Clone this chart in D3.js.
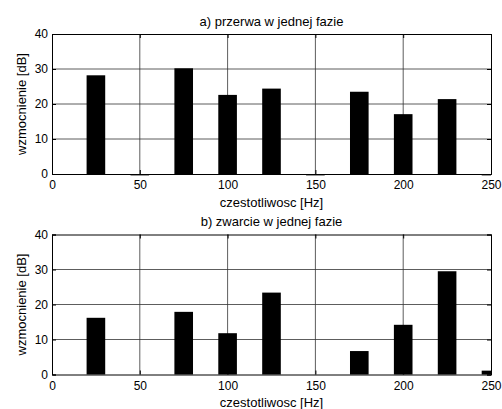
<!DOCTYPE html>
<meta charset="utf-8">
<style>
body { margin: 0; background: #fff; }
text { font-family: "Liberation Sans", Arial, sans-serif; font-size: 13px; fill: #000; }
.grid line { stroke: #333; stroke-width: 0.8; }
</style>
<body>
<svg width="502" height="409"></svg>
<script src="https://d3js.org/d3.v7.min.js"></script>
<script>
// frequencies [Hz]
var freqs = [25, 50, 75, 100, 125, 150, 175, 200, 225, 250];
// gain [dB]
var gainA = [28.2, -0.4, 30.2, 22.6, 24.4, -0.4, 23.5, 17.1, 21.4, -0.4];
var gainB = [16.2, 0, 17.9, 11.8, 23.4, 0, 6.7, 14.2, 29.5, 1.1];
var titles = ["a) przerwa w jednej fazie", "b) zwarcie w jednej fazie"];
var xTicks = [0, 50, 100, 150, 200, 250];
var yTicks = [0, 10, 20, 30, 40];

var svg = d3.select("svg");
var left = 52, right = 491, plotH = 140;
var tops = [34, 234.5];

var x = d3.scaleLinear().domain([0, 250]).range([left, right]);
var barW = 10.6;

[gainA, gainB].forEach(function(vals, i) {
  var top = tops[i];
  var y = d3.scaleLinear().domain([0, 40]).range([top + plotH, top]);
  var g = svg.append("g");

  g.append("clipPath").attr("id", "clip" + i)
    .append("rect").attr("x", left).attr("y", top).attr("width", right - left).attr("height", plotH + 3);

  // grid
  var grid = g.append("g").attr("class", "grid");
  grid.selectAll(".gx").data(xTicks.slice(1, -1)).enter().append("line")
    .attr("x1", function(d) { return x(d); }).attr("x2", function(d) { return x(d); })
    .attr("y1", top).attr("y2", top + plotH);
  grid.selectAll(".gy").data(yTicks.slice(1, -1)).enter().append("line")
    .attr("x1", left).attr("x2", right)
    .attr("y1", function(d) { return y(d); }).attr("y2", function(d) { return y(d); });

  // axes
  var ax = g.append("g").attr("transform", "translate(0," + (top + plotH) + ")")
    .call(d3.axisBottom(x).tickValues(xTicks).tickSize(-4).tickPadding(6.5));
  ax.select(".domain").attr("stroke", "#000");
  g.append("g").attr("transform", "translate(0," + top + ")")
    .call(d3.axisTop(x).tickValues(xTicks).tickSize(-4).tickFormat(""))
    .select(".domain").attr("stroke", "#000");
  g.append("g").attr("transform", "translate(" + left + ",0)")
    .call(d3.axisLeft(y).tickValues(yTicks).tickSize(-4).tickPadding(4))
    .select(".domain").attr("stroke", "#000");
  g.append("g").attr("transform", "translate(" + right + ",0)")
    .call(d3.axisRight(y).tickValues(yTicks).tickSize(-4).tickFormat(""))
    .select(".domain").attr("stroke", "#000");
  g.selectAll(".tick text").style("font-family", "Liberation Sans, Arial, sans-serif")
    .style("font-size", "12px").attr("fill", "#000");

  // bars
  g.append("g").attr("clip-path", "url(#clip" + i + ")")
    .selectAll("rect").data(freqs).enter().append("rect")
      .attr("x", function(d) { return x(d - barW / 2); })
      .attr("width", x(barW) - x(0))
      .attr("y", function(d, j) { return y(Math.max(0, vals[j])); })
      .attr("height", function(d, j) { return Math.abs(y(vals[j]) - y(0)); })
      .attr("fill", "#000");

  g.append("text").attr("x", (left + right) / 2).attr("y", top - 8.5)
    .attr("text-anchor", "middle").text(titles[i]);
  g.append("text").attr("x", (left + right) / 2).attr("y", top + plotH + 32.5)
    .attr("text-anchor", "middle").text("czestotliwosc [Hz]");
  g.append("text").attr("transform", "translate(26," + (top + plotH / 2) + ") rotate(-90)")
    .attr("text-anchor", "middle").text("wzmocnienie [dB]");
});
</script>
</body>
